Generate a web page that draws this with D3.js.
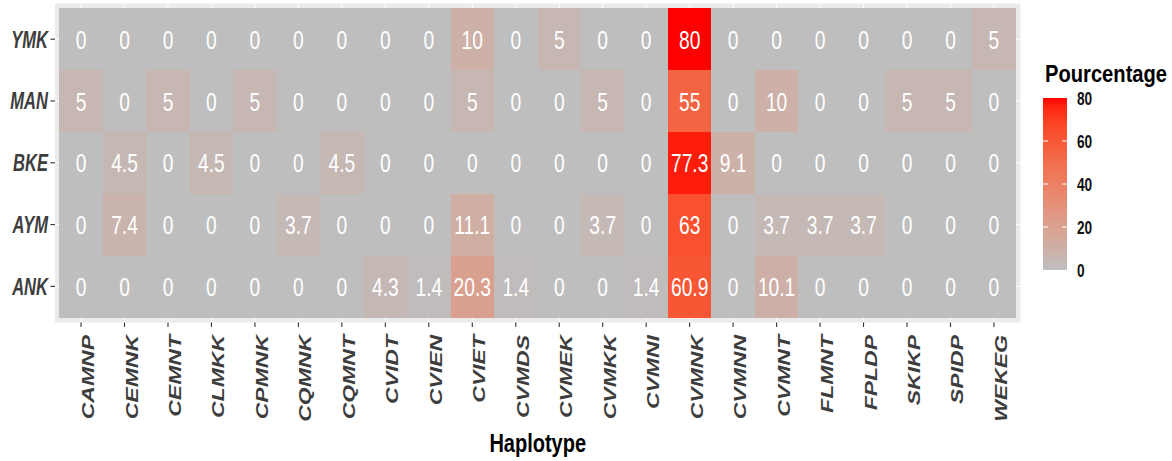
<!DOCTYPE html>
<html>
<head>
<meta charset="utf-8">
<title>Haplotype heatmap</title>
<style>
body { margin: 0; background: #fff; }
svg text { font-family: "Liberation Sans", Arial, sans-serif; }
</style>
</head>
<body>
<div id="chart"></div>
<script src="https://cdn.jsdelivr.net/npm/d3@7"></script>
<script>
// data
const haplotypes = ["CAMNP","CEMNK","CEMNT","CLMKK","CPMNK","CQMNK","CQMNT","CVIDT","CVIEN","CVIET","CVMDS",
                    "CVMEK","CVMKK","CVMNI","CVMNK","CVMNN","CVMNT","FLMNT","FPLDP","SKIKP","SPIDP","WEKEG"]
const populations = ["YMK","MAN","BKE","AYM","ANK"]
const YMK = [0,0,0,0,0,0,0,0,0,10,0,5,0,0,80,0,0,0,0,0,0,5]
const MAN = [5,0,5,0,5,0,0,0,0,5,0,0,5,0,55,0,10,0,0,5,5,0]
const BKE = [0,4.5,0,4.5,0,0,4.5,0,0,0,0,0,0,0,77.3,9.1,0,0,0,0,0,0]
const AYM = [0,7.4,0,0,0,3.7,0,0,0,11.1,0,0,3.7,0,63,0,3.7,3.7,3.7,0,0,0]
const ANK = [0,0,0,0,0,0,0,4.3,1.4,20.3,1.4,0,0,1.4,60.9,0,10.1,0,0,0,0,0]
const legendTicks = [0,20,40,60,80]

const rows = {YMK, MAN, BKE, AYM, ANK}
const cells = []
populations.forEach(p => rows[p].forEach((v, i) => cells.push({pop: p, hap: haplotypes[i], value: v})))

const width = 1172, height = 461
const svg = d3.select("#chart").append("svg")
    .attr("width", width).attr("height", height)

const x = d3.scaleBand().domain(haplotypes).range([59.3, 1015.7])
const y = d3.scaleBand().domain(populations).range([8.3, 317.3])
const color = d3.scaleLinear().domain([0, 80]).range(["#bebebe", "#ff0000"])
    .interpolate(d3.interpolateLab)

// panel background + grid
const panel = {x0: 55, x1: 1020.5, y0: 3.5, y1: 322.5}
svg.append("rect")
    .attr("x", panel.x0).attr("y", panel.y0)
    .attr("width", panel.x1 - panel.x0).attr("height", panel.y1 - panel.y0)
    .attr("fill", "#ebebeb")
svg.append("g").selectAll("line").data(haplotypes).join("line")
    .attr("x1", d => x(d) + x.bandwidth()/2).attr("x2", d => x(d) + x.bandwidth()/2)
    .attr("y1", panel.y0).attr("y2", panel.y1)
    .attr("stroke", "#fff").attr("stroke-width", 1)
svg.append("g").selectAll("line").data(populations).join("line")
    .attr("y1", d => y(d) + y.bandwidth()/2).attr("y2", d => y(d) + y.bandwidth()/2)
    .attr("x1", panel.x0).attr("x2", panel.x1)
    .attr("stroke", "#fff").attr("stroke-width", 1)

// tiles (slight overlap so no seams show between neighbours)
svg.append("g").selectAll("rect").data(cells).join("rect")
    .attr("x", d => x(d.hap)).attr("y", d => y(d.pop))
    .attr("width", x.bandwidth() + 0.6).attr("height", y.bandwidth() + 0.6)
    .attr("fill", d => color(d.value))
    .attr("shape-rendering", "crispEdges")

svg.append("g").selectAll("text").data(cells).join("text")
    .attr("transform", d => `translate(${x(d.hap) + x.bandwidth()/2},${y(d.pop) + y.bandwidth()/2 + 9.5}) scale(0.74,1)`)
    .attr("text-anchor", "middle")
    .attr("font-size", 26)
    .attr("fill", "#fff")
    .text(d => d.value)

// y axis
const yAxis = svg.append("g")
yAxis.selectAll("line").data(populations).join("line")
    .attr("x1", 50.5).attr("x2", 55)
    .attr("y1", d => y(d) + y.bandwidth()/2).attr("y2", d => y(d) + y.bandwidth()/2)
    .attr("stroke", "#333").attr("stroke-width", 1.1)
yAxis.selectAll("text").data(populations).join("text")
    .attr("transform", d => `translate(48,${y(d) + y.bandwidth()/2 + 8.3}) scale(0.72,1)`)
    .attr("text-anchor", "end")
    .attr("font-size", 23).attr("font-weight", "bold").attr("font-style", "italic")
    .attr("fill", "#3d3d3d")
    .text(d => d)

// x axis
const xAxis = svg.append("g")
xAxis.selectAll("line").data(haplotypes).join("line")
    .attr("x1", d => x(d) + x.bandwidth()/2).attr("x2", d => x(d) + x.bandwidth()/2)
    .attr("y1", 322.5).attr("y2", 327)
    .attr("stroke", "#333").attr("stroke-width", 1.1)
xAxis.selectAll("text").data(haplotypes).join("text")
    .attr("transform", d => `translate(${x(d) + x.bandwidth()/2 + 13},335) rotate(-90) scale(1,0.72)`)
    .attr("text-anchor", "end")
    .attr("font-size", 23).attr("font-weight", "bold").attr("font-style", "italic")
    .attr("fill", "#3d3d3d")
    .text(d => d)

svg.append("text")
    .attr("transform", `translate(${(panel.x0 + panel.x1)/2},452) scale(0.8,1)`)
    .attr("text-anchor", "middle")
    .attr("font-size", 25).attr("font-weight", "bold")
    .attr("fill", "#000")
    .text("Haplotype")

// legend
const ly = d3.scaleLinear().domain([0, 80]).range([270, 98])
const defs = svg.append("defs")
const grad = defs.append("linearGradient").attr("id", "lg")
    .attr("x1", 0).attr("x2", 0).attr("y1", 1).attr("y2", 0)
grad.selectAll("stop").data(d3.range(0, 81, 4)).join("stop")
    .attr("offset", d => d / 80)
    .attr("stop-color", d => color(d))

svg.append("text")
    .attr("transform", "translate(1045,82) scale(0.84,1)")
    .attr("font-size", 24).attr("font-weight", "bold")
    .attr("fill", "#000")
    .text("Pourcentage")

svg.append("rect")
    .attr("x", 1043).attr("y", ly(80))
    .attr("width", 24).attr("height", ly(0) - ly(80))
    .attr("fill", "url(#lg)")

const inner = legendTicks.filter(d => d > 0 && d < 80)
svg.append("g").selectAll("line").data(inner).join("line")
    .attr("x1", 1043).attr("x2", 1048)
    .attr("y1", d => ly(d)).attr("y2", d => ly(d))
    .attr("stroke", "#fff").attr("stroke-width", 1)
svg.append("g").selectAll("line").data(inner).join("line")
    .attr("x1", 1062).attr("x2", 1067)
    .attr("y1", d => ly(d)).attr("y2", d => ly(d))
    .attr("stroke", "#fff").attr("stroke-width", 1)

svg.append("g").selectAll("text").data(legendTicks).join("text")
    .attr("transform", d => `translate(1077,${ly(d) + 7}) scale(0.72,1)`)
    .attr("font-size", 19).attr("font-weight", "bold")
    .attr("fill", "#111")
    .text(d => d)
</script>
</body>
</html>
